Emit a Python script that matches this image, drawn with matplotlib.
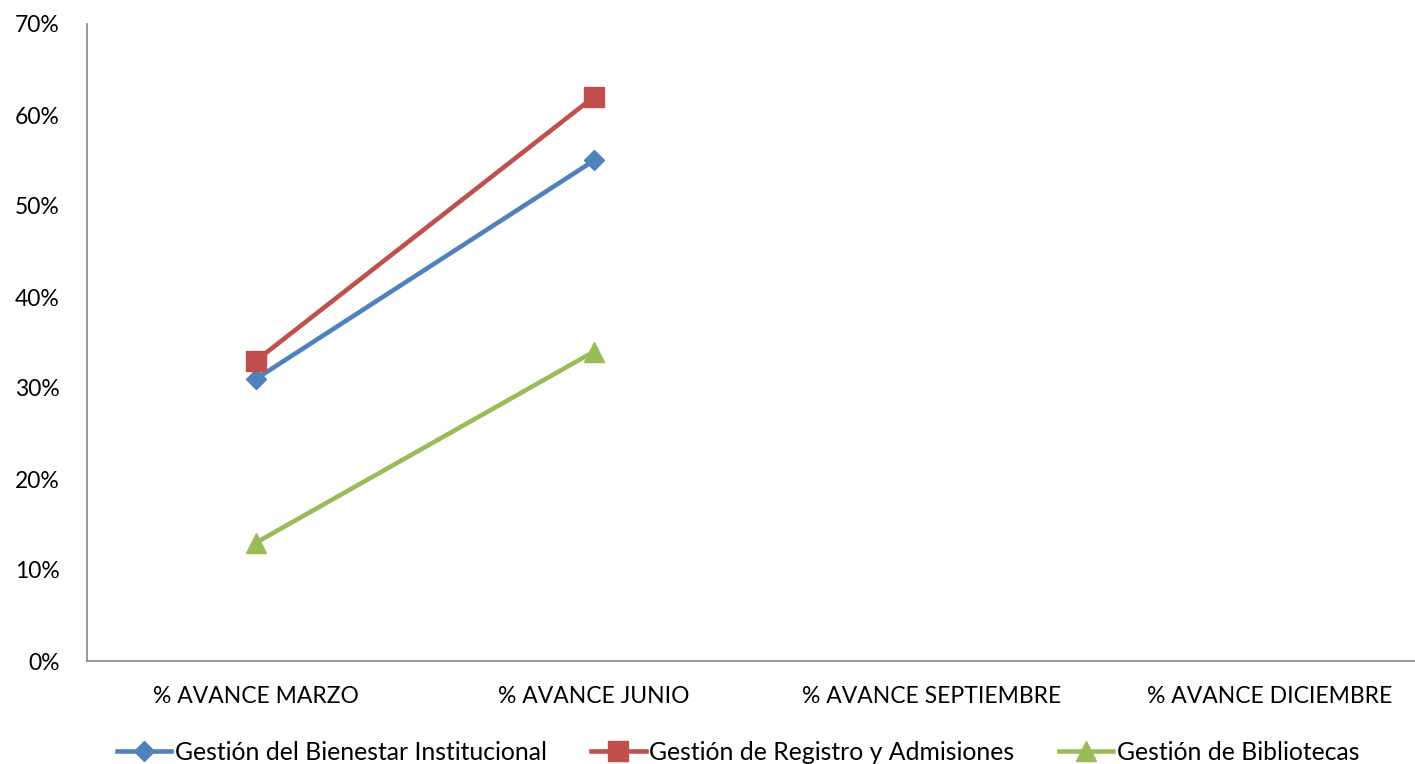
import matplotlib
matplotlib.use("Agg")
import matplotlib.pyplot as plt
from matplotlib.ticker import FuncFormatter

plt.rcParams['font.family'] = ['Lato', 'DejaVu Sans']

categories = ["% AVANCE MARZO", "% AVANCE JUNIO", "% AVANCE SEPTIEMBRE", "% AVANCE DICIEMBRE"]
series_names = ["Gestión del Bienestar Institucional", "Gestión de Registro y Admisiones", "Gestión de Bibliotecas"]
bienestar = [0.31, 0.55]
registro = [0.33, 0.62]
bibliotecas = [0.13, 0.34]
yticks = [0, 0.1, 0.2, 0.3, 0.4, 0.5, 0.6, 0.7]

colors = ["#4F81BD", "#C0504D", "#9BBB59"]
markers = ["D", "s", "^"]
msizes = [10, 14, 15]

W, H = 1415, 764
fig = plt.figure(figsize=(W / 100, H / 100), dpi=100)
ax = fig.add_axes([87 / W, (764 - 661) / H, 1352 / W, (661 - 24) / H])

for vals, name, c, m, ms in zip([bienestar, registro, bibliotecas], series_names, colors, markers, msizes):
    ax.plot(range(len(vals)), vals, color=c, lw=3.3, marker=m, markersize=ms, label=name)

ax.set_xlim(-0.5, len(categories) - 0.5)
ax.set_ylim(0, 0.7)
ax.set_yticks(yticks)
ax.yaxis.set_major_formatter(FuncFormatter(lambda v, p: f"{v*100:.0f}%"))
ax.set_xticks(range(len(categories)))
ax.set_xticklabels(categories)
ax.tick_params(axis='both', length=0, labelsize=16.5, colors='black')
ax.tick_params(axis='x', pad=18)
ax.tick_params(axis='y', pad=19.5)
for s in ['top', 'right']:
    ax.spines[s].set_visible(False)
for s in ['left', 'bottom']:
    ax.spines[s].set_color('#888888')
    ax.spines[s].set_linewidth(1.2)

leg = fig.legend(loc='center', bbox_to_anchor=(738 / W, 1 - 752 / H), ncol=3, frameon=False,
                 fontsize=17.8, handlelength=2.2, columnspacing=1.8, handletextpad=0.15)

fig.savefig("out.png", dpi=100)
